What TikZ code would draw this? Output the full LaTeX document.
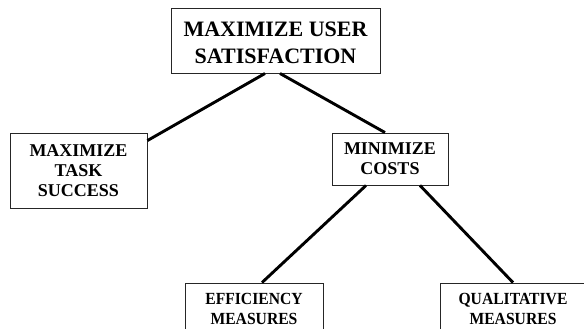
\documentclass[tikz,border=0pt]{standalone}
\usepackage{fontspec}
\setmainfont{Liberation Serif}
\newfontfamily\narrowserif[FakeStretch=0.92]{Liberation Serif}
\usetikzlibrary{calc}
\begin{document}
\begin{tikzpicture}[x=1pt,y=-1pt,
  box/.style={draw=black!85, line width=0.9pt, inner sep=0pt, align=center, fill=white},
  link/.style={line width=2.9pt, black}]
\useasboundingbox (0,0) rectangle (584,329);
\begin{scope}
\clip (0,0) rectangle (584,329);
\node[box, minimum width=209pt, minimum height=65pt,
  label={[align=center, inner sep=0pt, yshift=-2pt, font=\fontsize{22}{27}\selectfont\bfseries]center:{MAXIMIZE USER\\SATISFACTION}}] (top) at (275.5,40.5) {};
\node[box, minimum width=137pt, minimum height=75pt, font=\fontsize{18}{20.3}\selectfont\bfseries] (left) at (78.5,170.5) {MAXIMIZE\\TASK\\SUCCESS};
\node[box, minimum width=116pt, minimum height=52pt, font=\fontsize{18}{20}\selectfont\bfseries] (mid) at (390,159) {MINIMIZE\\COSTS};
\node[box, minimum width=138pt, minimum height=52pt, font=\narrowserif\fontsize{17}{20}\selectfont\bfseries] (eff) at (254,309) {EFFICIENCY\\MEASURES};
\node[box, minimum width=146pt, minimum height=52pt, font=\narrowserif\fontsize{17}{20}\selectfont\bfseries] (qual) at (513,309) {QUALITATIVE\\MEASURES};
\draw[link] ($(top.south)+(-10.5,0)$) -- ($(left.north east)+(0,8)$);
\draw[link] ($(top.south)+(4.5,0)$) -- ($(mid.north)+(-5,0)$);
\draw[link] ($(mid.south)+(-24,0)$) -- ($(eff.north)+(8,0)$);
\draw[link] ($(mid.south)+(30,0)$) -- ($(qual.north)+(0,0)$);
\end{scope}
\end{tikzpicture}
\end{document}
